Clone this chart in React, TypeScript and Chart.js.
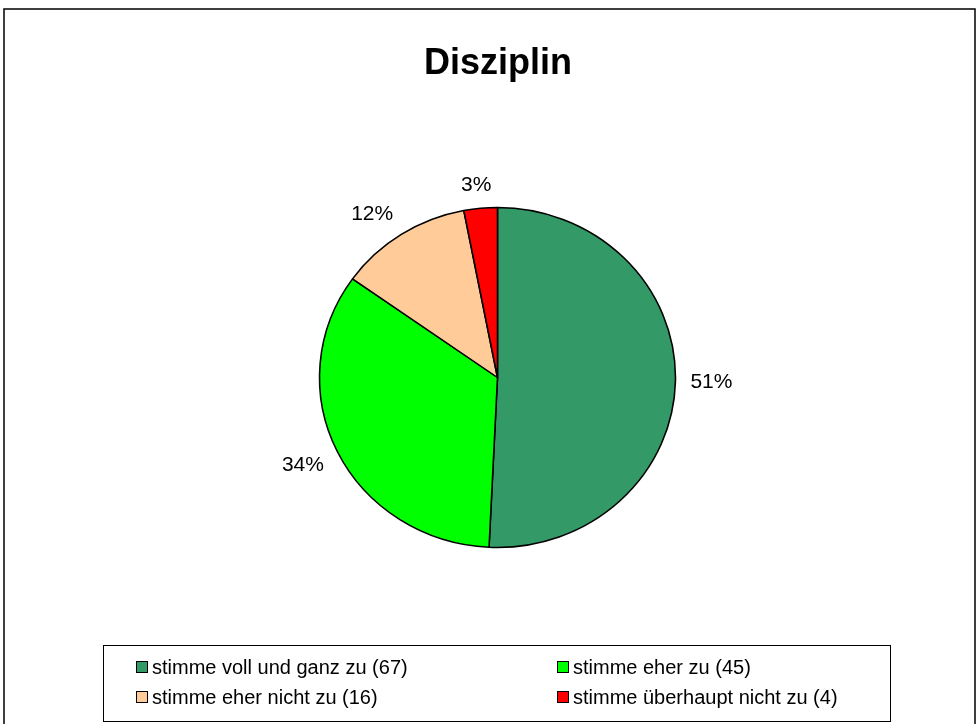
import React, { useEffect, useRef } from "react";
import { Chart, registerables } from "chart.js";

Chart.register(...registerables);

const chartTitle = "Disziplin";
const categories = [
  "stimme voll und ganz zu",
  "stimme eher zu",
  "stimme eher nicht zu",
  "stimme überhaupt nicht zu",
];
const counts = [67, 45, 16, 4];
const sliceColors = ["#339966", "#00FF00", "#FFCC99", "#FF0000"];

const W = 979;
const H = 724;
const FONT = '"Liberation Sans", Arial, Helvetica, sans-serif';
const PIE_R = 170;
const X_STRETCH = 178.5 / 170.5;

const ellipsePlugin = {
  id: "ellipsePie",
  beforeDatasetsDraw(chart: any) {
    const arc = chart.getDatasetMeta(0).data[0];
    const ctx = chart.ctx;
    ctx.save();
    ctx.translate(arc.x, arc.y);
    ctx.scale(X_STRETCH, 1);
    ctx.translate(-arc.x, -arc.y);
  },
  afterDatasetsDraw(chart: any) {
    chart.ctx.restore();
  },
};

const decorPlugin = {
  id: "decor",
  afterDraw(chart: any) {
    const ctx = chart.ctx as CanvasRenderingContext2D;
    ctx.save();
    // outer frame
    ctx.strokeStyle = "#000";
    ctx.lineWidth = 1.5;
    ctx.strokeRect(4, 9, 971, 740);

    // title
    ctx.fillStyle = "#000";
    ctx.font = `bold 36px ${FONT}`;
    ctx.textAlign = "center";
    ctx.textBaseline = "middle";
    ctx.fillText(chartTitle, 498, 64);

    // percentage labels
    const meta = chart.getDatasetMeta(0);
    const total = counts.reduce((a, b) => a + b, 0);
    ctx.font = `21px ${FONT}`;
    meta.data.forEach((arc: any, i: number) => {
      const p = arc.getProps(["x", "y", "startAngle", "endAngle", "outerRadius"], true);
      const mid = (p.startAngle + p.endAngle) / 2;
      const c = Math.cos(mid);
      const s = Math.sin(mid);
      const rx = p.outerRadius * X_STRETCH;
      const ry = p.outerRadius;
      const text = Math.round((counts[i] / total) * 100) + "%";
      const w = ctx.measureText(text).width;
      const h = 16;
      const gap = 15;
      const ox = Math.sign(c) * (w / 2) * Math.min(1, Math.abs(c) * 2);
      const oy = Math.sign(s) * (h / 2) * Math.min(1, Math.abs(s) * 2);
      const tx = p.x + (rx + gap) * c + ox;
      const ty = p.y + (ry + gap) * s + oy;
      ctx.fillText(text, tx, ty);
    });

    // legend
    ctx.lineWidth = 1;
    ctx.strokeStyle = "#000";
    ctx.strokeRect(103.5, 645.5, 787, 76);
    const colX = [136, 557];
    const rowY = [667, 697];
    ctx.font = `20px ${FONT}`;
    ctx.textAlign = "left";
    ctx.textBaseline = "middle";
    categories.forEach((cat, i) => {
      const mx = colX[i % 2];
      const my = rowY[Math.floor(i / 2)];
      ctx.fillStyle = sliceColors[i];
      ctx.fillRect(mx + 0.5, my - 5.5, 11, 11);
      ctx.strokeRect(mx + 0.5, my - 5.5, 11, 11);
      ctx.fillStyle = "#000";
      ctx.fillText(`${cat} (${counts[i]})`, mx + 16, my + 1);
    });
    ctx.restore();
  },
};

export default function App() {
  const canvasRef = useRef<HTMLCanvasElement | null>(null);

  useEffect(() => {
    document.body.style.margin = "0";
    const canvas = canvasRef.current;
    if (!canvas) return;
    const chart = new Chart(canvas, {
      type: "pie",
      data: {
        labels: categories,
        datasets: [
          {
            data: counts,
            backgroundColor: sliceColors,
            borderColor: "#000000",
            borderWidth: 1.5,
          },
        ],
      },
      options: {
        responsive: false,
        animation: false,
        devicePixelRatio: 1,
        radius: PIE_R,
        layout: { padding: { left: 26, right: 10, top: 41, bottom: 10 } },
        plugins: {
          legend: { display: false },
          title: { display: false },
          tooltip: { enabled: false },
        },
        events: [],
      } as any,
      plugins: [ellipsePlugin, decorPlugin],
    });
    return () => chart.destroy();
  }, []);

  return (
    <div style={{ position: "absolute", left: 0, top: 0, width: W, height: H, background: "#fff" }}>
      <canvas ref={canvasRef} width={W} height={H} style={{ display: "block" }} />
    </div>
  );
}
